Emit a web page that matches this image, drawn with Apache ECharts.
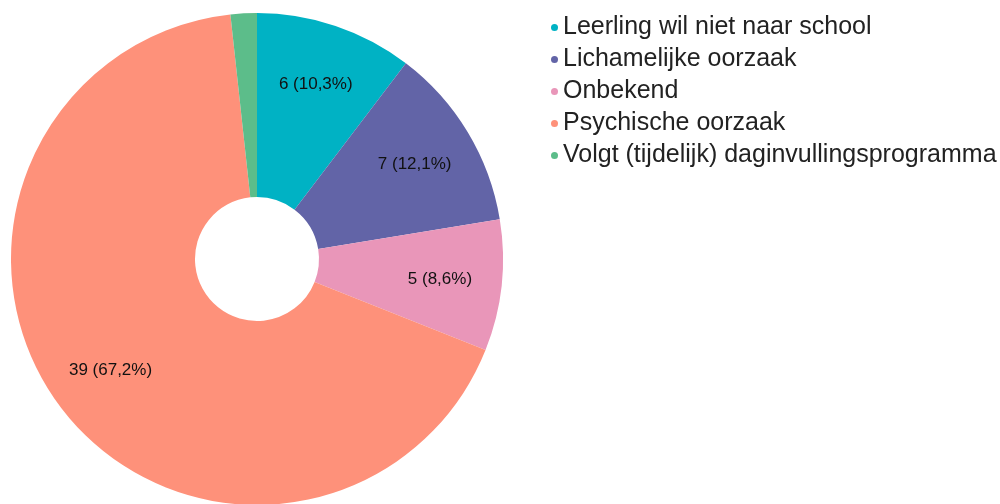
<!DOCTYPE html>
<html>
<head>
<meta charset="utf-8">
<script src="https://cdn.jsdelivr.net/npm/echarts@6/dist/echarts.min.js"></script>
<style>
  html, body { margin: 0; padding: 0; background: #fff; }
  #charts { width: 1000px; height: 504px; }
</style>
</head>
<body>
<div id="charts"></div>
<script>
const categories = ['Leerling wil niet naar school', 'Lichamelijke oorzaak', 'Onbekend', 'Psychische oorzaak', 'Volgt (tijdelijk) daginvullingsprogramma'];
const values = [6, 7, 5, 39, 1];
const colors = ['#00b2c4', '#6264a7', '#e996b9', '#fe917a', '#5cbd8a'];
const hiddenLabels = ['Volgt (tijdelijk) daginvullingsprogramma'];

const total = values.reduce((a, b) => a + b, 0);
const pieData = categories.map((name, i) => ({ name: name, value: values[i] }));

const option = {
    animation: false,
    color: colors,
    legend: {
        orient: 'vertical',
        left: 546,
        top: 10,
        icon: 'circle',
        itemWidth: 7,
        itemHeight: 7,
        itemGap: 7,
        textStyle: {
            fontFamily: 'Liberation Sans, Arial, sans-serif',
            fontSize: 25,
            color: '#222'
        },
        selectedMode: false,
        data: categories
    },
    series: [{
        type: 'pie',
        center: [257, 259],
        radius: [62, 246],
        startAngle: 90,
        clockwise: true,
        silent: true,
        label: { show: false },
        labelLine: { show: false },
        data: pieData
    }, {
        // transparent copy, only used to place the labels further out in the ring
        type: 'pie',
        center: [257, 259],
        radius: [116, 246],
        startAngle: 90,
        clockwise: true,
        silent: true,
        legendHoverLink: false,
        itemStyle: { color: 'rgba(0,0,0,0)' },
        label: {
            show: true,
            position: 'inside',
            fontFamily: 'Liberation Sans, Arial, sans-serif',
            fontSize: 17,
            color: '#111',
            formatter: function (p) {
                if (hiddenLabels.indexOf(p.name) >= 0) return '';
                const pct = (p.value / total * 100).toFixed(1).replace('.', ',');
                return p.value + ' (' + pct + '%)';
            }
        },
        labelLine: { show: false },
        data: pieData
    }]
};
const chart = echarts.init(document.getElementById('charts'));
chart.setOption(option);
</script>
</body>
</html>
